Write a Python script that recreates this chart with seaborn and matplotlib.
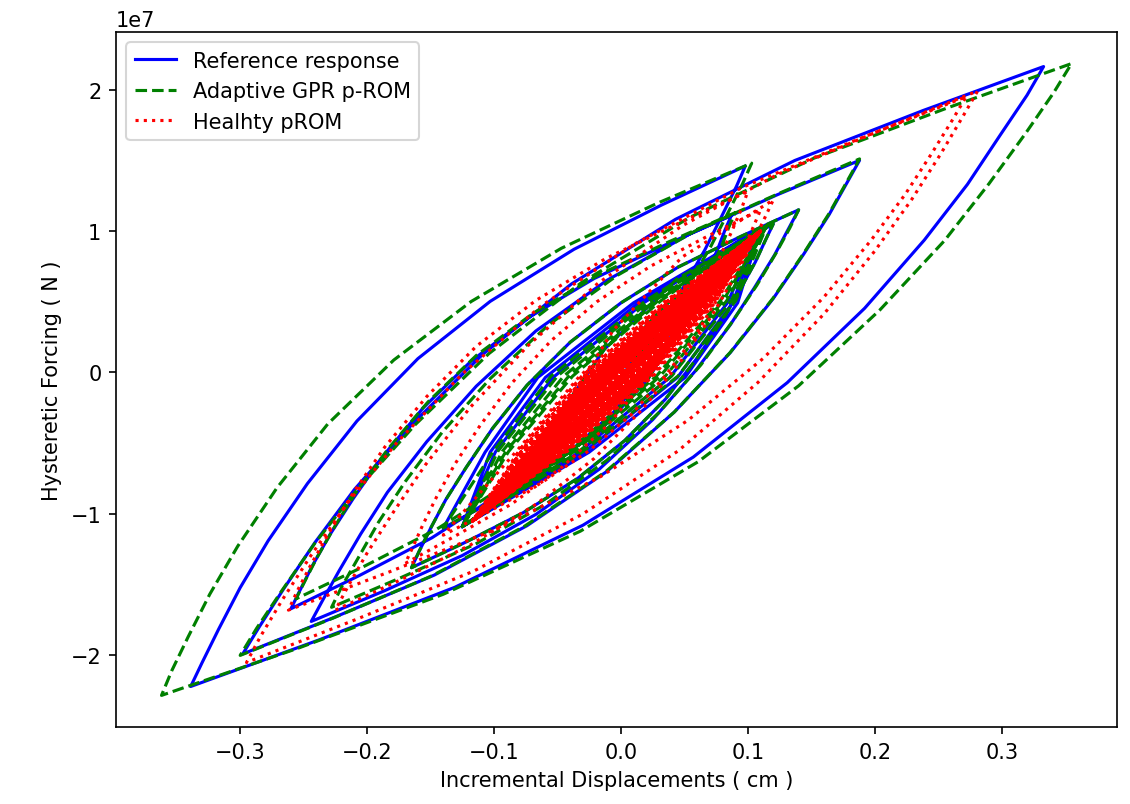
import numpy as np
import pandas as pd
import matplotlib
matplotlib.use("Agg")
import matplotlib.pyplot as plt
import seaborn as sns

# Forces are listed in units of 1e7 N, displacements in cm.
FORCE_UNIT = 1e7

# ---------------- Reference response ----------------
ref_start = [
    (0.0, 0.0), (0.006, 0.136), (0.018, 0.31), (0.036, 0.484), (0.06, 0.62),
    (0.047, 0.325), (0.021, -0.05), (-0.018, -0.425), (-0.07, -0.72),
    (-0.051, -0.331), (-0.013, 0.165), (0.044, 0.661), (0.12, 1.05),
]
ref_build = [
    (0.114, 0.938), (0.106, 0.783), (0.094, 0.588), (0.080, 0.370), (0.060, 0.102),
    (0.035, -0.189), (0.003, -0.481), (-0.034, -0.748), (-0.077, -0.991), (-0.122, -1.198), (-0.165, -1.38),
    (-0.159, -1.264), (-0.150, -1.102), (-0.138, -0.899), (-0.122, -0.672), (-0.101, -0.393),
    (-0.074, -0.090), (-0.040, 0.214), (0.000, 0.492), (0.045, 0.745), (0.094, 0.960), (0.14, 1.15),
    (0.132, 1.016), (0.121, 0.830), (0.105, 0.597), (0.086, 0.335), (0.059, 0.015),
    (0.025, -0.334), (-0.017, -0.683), (-0.067, -1.003), (-0.125, -1.294), (-0.186, -1.542), (-0.244, -1.76),
]
ref_peak = [
    (-0.235, -1.610), (-0.222, -1.401), (-0.205, -1.141), (-0.184, -0.847), (-0.153, -0.489),
    (-0.114, -0.097), (-0.067, 0.294), (-0.011, 0.652), (0.054, 0.978), (0.123, 1.256), (0.188, 1.50),
    (0.178, 1.340), (0.164, 1.116), (0.144, 0.837), (0.120, 0.523), (0.086, 0.139),
    (0.042, -0.280), (-0.011, -0.699), (-0.074, -1.083), (-0.147, -1.432), (-0.225, -1.728), (-0.298, -1.99),
    (-0.285, -1.799), (-0.266, -1.533), (-0.241, -1.201), (-0.210, -0.827), (-0.165, -0.370),
    (-0.109, 0.128), (-0.039, 0.626), (0.043, 1.083), (0.137, 1.499), (0.238, 1.852), (0.333, 2.163),
    (0.320, 1.961), (0.299, 1.681), (0.273, 1.330), (0.239, 0.936), (0.192, 0.454),
    (0.131, -0.072), (0.057, -0.598), (-0.030, -1.080), (-0.131, -1.519), (-0.238, -1.891), (-0.339, -2.22),
    (-0.330, -2.051), (-0.317, -1.815), (-0.300, -1.521), (-0.278, -1.190), (-0.247, -0.785),
    (-0.208, -0.343), (-0.160, 0.098), (-0.103, 0.503), (-0.037, 0.871), (0.032, 1.184), (0.098, 1.46),
    (0.091, 1.316), (0.080, 1.116), (0.066, 0.865), (0.048, 0.584), (0.023, 0.239),
    (-0.009, -0.136), (-0.049, -0.512), (-0.095, -0.856), (-0.149, -1.169), (-0.206, -1.435), (-0.26, -1.67),
    (-0.253, -1.542), (-0.243, -1.364), (-0.229, -1.142), (-0.211, -0.892), (-0.187, -0.586),
    (-0.156, -0.252), (-0.118, 0.081), (-0.073, 0.387), (-0.021, 0.665), (0.035, 0.902), (0.087, 1.11),
    (0.082, 1.008), (0.076, 0.867), (0.067, 0.690), (0.055, 0.491), (0.039, 0.248),
    (0.019, -0.017), (-0.006, -0.282), (-0.036, -0.525), (-0.070, -0.746), (-0.106, -0.934), (-0.14, -1.10),
]
ref_decay = [
    (-0.107, -0.563), (-0.0655, -0.035), (0.010, 0.493), (0.11, 1.02),
    (0.092, 0.493), (0.0505, -0.035), (-0.025, -0.563), (-0.125, -1.09),
    (-0.103, -0.563), (-0.0595, -0.035), (0.014, 0.493), (0.11, 1.02),
    (0.088, 0.493), (0.0445, -0.035), (-0.029, -0.563), (-0.125, -1.09),
    (-0.099, -0.563), (-0.0535, -0.035), (0.018, 0.493), (0.11, 1.02),
    (0.084, 0.493), (0.0385, -0.035), (-0.033, -0.563), (-0.125, -1.09),
]

# ---------------- Adaptive GPR p-ROM ----------------
gpr_build = [
    (0.133, 1.021), (0.122, 0.841), (0.107, 0.616), (0.088, 0.363), (0.063, 0.054),
    (0.030, -0.283), (-0.011, -0.620), (-0.059, -0.929), (-0.114, -1.210), (-0.173, -1.449), (-0.228, -1.66),
]
gpr_peak = [
    (-0.220, -1.514), (-0.207, -1.311), (-0.191, -1.058), (-0.170, -0.772), (-0.141, -0.424),
    (-0.103, -0.043), (-0.057, 0.337), (-0.003, 0.686), (0.059, 1.003), (0.126, 1.272), (0.188, 1.51),
    (0.178, 1.349), (0.164, 1.124), (0.144, 0.843), (0.120, 0.527), (0.086, 0.141),
    (0.042, -0.280), (-0.012, -0.701), (-0.076, -1.087), (-0.149, -1.438), (-0.227, -1.737), (-0.300, -2.00),
    (-0.287, -1.808), (-0.267, -1.540), (-0.241, -1.205), (-0.208, -0.829), (-0.162, -0.368),
    (-0.104, 0.134), (-0.031, 0.636), (0.054, 1.096), (0.152, 1.515), (0.257, 1.870), (0.355, 2.184),
    (0.341, 1.979), (0.319, 1.693), (0.290, 1.335), (0.255, 0.933), (0.204, 0.442),
    (0.140, -0.094), (0.061, -0.630), (-0.032, -1.122), (-0.140, -1.568), (-0.254, -1.948), (-0.362, -2.283),
    (-0.354, -2.110), (-0.341, -1.869), (-0.324, -1.568), (-0.302, -1.229), (-0.271, -0.815),
    (-0.231, -0.364), (-0.179, 0.088), (-0.118, 0.502), (-0.047, 0.878), (0.029, 1.198), (0.103, 1.48),
    (0.096, 1.338), (0.085, 1.141), (0.071, 0.895), (0.053, 0.618), (0.028, 0.279),
    (-0.005, -0.091), (-0.044, -0.460), (-0.091, -0.799), (-0.145, -1.107), (-0.202, -1.369), (-0.256, -1.60),
    (-0.249, -1.474), (-0.239, -1.300), (-0.225, -1.081), (-0.208, -0.836), (-0.183, -0.535),
    (-0.152, -0.208), (-0.114, 0.120), (-0.069, 0.420), (-0.017, 0.693), (0.038, 0.925), (0.09, 1.13),
    (0.085, 1.027), (0.079, 0.885), (0.069, 0.706), (0.058, 0.506), (0.042, 0.260),
    (0.021, -0.007), (-0.004, -0.275), (-0.034, -0.520), (-0.069, -0.743), (-0.106, -0.933), (-0.14, -1.10),
]
gpr_decay = [
    (-0.1005, -0.557), (-0.055, -0.025), (0.0195, 0.508), (0.115, 1.04),
    (0.0905, 0.508), (0.045, -0.025), (-0.0295, -0.557), (-0.125, -1.09),
    (-0.097, -0.557), (-0.050, -0.025), (0.023, 0.508), (0.115, 1.04),
    (0.087, 0.508), (0.040, -0.025), (-0.033, -0.557), (-0.125, -1.09),
    (-0.0934, -0.557), (-0.045, -0.025), (0.0266, 0.508), (0.115, 1.04),
    (0.0834, 0.508), (0.035, -0.025), (-0.0366, -0.557), (-0.125, -1.09),
    (-0.0906, -0.557), (-0.041, -0.025), (0.0294, 0.508), (0.115, 1.04),
    (0.0806, 0.508), (0.031, -0.025), (-0.0394, -0.557), (-0.125, -1.09),
    (-0.0884, -0.557), (-0.038, -0.025), (0.0316, 0.508), (0.115, 1.04),
    (0.0784, 0.508), (0.028, -0.025), (-0.0416, -0.557), (-0.125, -1.09),
]

# ---------------- Healthy pROM ----------------
healthy_start = [
    (0.0, 0.0), (0.006, 0.12), (0.02, 0.28), (0.05, 0.55),
    (0.035, 0.25), (0.005, -0.15), (-0.06, -0.62),
    (-0.042, -0.215), (-0.006, 0.30), (0.048, 0.815), (0.12, 1.22),
    (0.113, 1.087), (0.103, 0.901), (0.089, 0.669), (0.072, 0.408), (0.048, 0.089),
    (0.017, -0.259), (-0.021, -0.607), (-0.066, -0.926), (-0.118, -1.216), (-0.173, -1.463), (-0.225, -1.68),
]
healthy_peak = [
    (-0.215, -1.511), (-0.200, -1.276), (-0.179, -0.983), (-0.154, -0.652), (-0.119, -0.249),
    (-0.073, 0.192), (-0.018, 0.632), (0.048, 1.036), (0.124, 1.403), (0.205, 1.715), (0.281, 1.99),
    (0.269, 1.804), (0.252, 1.546), (0.229, 1.222), (0.200, 0.859), (0.160, 0.414),
    (0.108, -0.070), (0.045, -0.555), (-0.030, -1.000), (-0.116, -1.404), (-0.209, -1.747), (-0.295, -2.05),
    (-0.284, -1.866), (-0.267, -1.610), (-0.244, -1.290), (-0.216, -0.930), (-0.176, -0.490),
    (-0.125, -0.010), (-0.063, 0.470), (0.011, 0.910), (0.096, 1.310), (0.187, 1.650), (0.272, 1.95),
    (0.261, 1.783), (0.245, 1.551), (0.224, 1.260), (0.197, 0.934), (0.160, 0.534),
    (0.112, 0.099), (0.053, -0.337), (-0.016, -0.736), (-0.096, -1.099), (-0.182, -1.408), (-0.262, -1.68),
    (-0.255, -1.544), (-0.244, -1.354), (-0.229, -1.118), (-0.211, -0.851), (-0.186, -0.526),
    (-0.153, -0.170), (-0.114, 0.185), (-0.067, 0.510), (-0.012, 0.806), (0.046, 1.058), (0.10, 1.28),
    (0.095, 1.159), (0.087, 0.991), (0.076, 0.780), (0.062, 0.544), (0.043, 0.254),
    (0.019, -0.061), (-0.011, -0.377), (-0.046, -0.666), (-0.086, -0.929), (-0.130, -1.153), (-0.17, -1.35),
    (-0.164, -1.235), (-0.156, -1.075), (-0.145, -0.875), (-0.131, -0.650), (-0.111, -0.375),
    (-0.086, -0.075), (-0.055, 0.225), (-0.019, 0.500), (0.023, 0.750), (0.068, 0.9625), (0.11, 1.15),
    (0.105, 1.044), (0.098, 0.897), (0.088, 0.713), (0.075, 0.506), (0.058, 0.253),
    (0.035, -0.023), (0.008, -0.299), (-0.025, -0.552), (-0.063, -0.782), (-0.103, -0.978), (-0.14, -1.15),
]
# long tail of small cycles that pile up in the middle of the plot
healthy_decay = [
    (-0.0806, -0.538), (-0.0325, -0.025), (0.0324, 0.488), (0.11, 1.0),
    (0.0736, 0.488), (0.0255, -0.025), (-0.0394, -0.538), (-0.117, -1.05),
    (-0.0788, -0.534), (-0.0310, -0.0275), (0.0328, 0.479), (0.108, 0.985),
    (0.0718, 0.479), (0.0240, -0.0275), (-0.0398, -0.534), (-0.115, -1.04),
    (-0.0785, -0.538), (-0.0295, -0.025), (0.0345, 0.488), (0.11, 1.0),
    (0.0715, 0.488), (0.0225, -0.025), (-0.0415, -0.538), (-0.117, -1.05),
    (-0.0767, -0.534), (-0.0280, -0.0275), (0.0349, 0.479), (0.108, 0.985),
    (0.0697, 0.479), (0.0210, -0.0275), (-0.0419, -0.534), (-0.115, -1.04),
    (-0.0770, -0.538), (-0.0275, -0.025), (0.0360, 0.488), (0.11, 1.0),
    (0.0700, 0.488), (0.0205, -0.025), (-0.0430, -0.538), (-0.117, -1.05),
    (-0.0753, -0.534), (-0.0260, -0.0275), (0.0363, 0.479), (0.108, 0.985),
    (0.0683, 0.479), (0.0190, -0.0275), (-0.0433, -0.534), (-0.115, -1.04),
    (-0.0756, -0.538), (-0.0255, -0.025), (0.0374, 0.488), (0.11, 1.0),
    (0.0686, 0.488), (0.0185, -0.025), (-0.0444, -0.538), (-0.117, -1.05),
    (-0.0739, -0.534), (-0.0240, -0.0275), (0.0377, 0.479), (0.108, 0.985),
    (0.0669, 0.479), (0.0170, -0.0275), (-0.0447, -0.534), (-0.115, -1.04),
    (-0.0742, -0.538), (-0.0235, -0.025), (0.0388, 0.488), (0.11, 1.0),
    (0.0672, 0.488), (0.0165, -0.025), (-0.0458, -0.538), (-0.117, -1.05),
    (-0.0728, -0.534), (-0.0225, -0.0275), (0.0388, 0.479), (0.108, 0.985),
    (0.0658, 0.479), (0.0155, -0.0275), (-0.0458, -0.534), (-0.115, -1.04),
    (-0.0728, -0.538), (-0.0215, -0.025), (0.0402, 0.488), (0.11, 1.0),
    (0.0658, 0.488), (0.0145, -0.025), (-0.0472, -0.538), (-0.117, -1.05),
    (-0.0714, -0.534), (-0.0205, -0.0275), (0.0402, 0.479), (0.108, 0.985),
    (0.0644, 0.479), (0.0135, -0.0275), (-0.0472, -0.534), (-0.115, -1.04),
    (-0.0714, -0.538), (-0.0195, -0.025), (0.0416, 0.488), (0.11, 1.0),
    (0.0644, 0.488), (0.0125, -0.025), (-0.0486, -0.538), (-0.117, -1.05),
    (-0.0700, -0.534), (-0.0185, -0.0275), (0.0416, 0.479), (0.108, 0.985),
    (0.0630, 0.479), (0.0115, -0.0275), (-0.0486, -0.534), (-0.115, -1.04),
    (-0.0699, -0.538), (-0.0175, -0.025), (0.0431, 0.488), (0.11, 1.0),
    (0.0629, 0.488), (0.0105, -0.025), (-0.0501, -0.538), (-0.117, -1.05),
    (-0.0685, -0.534), (-0.0165, -0.0275), (0.0431, 0.479), (0.108, 0.985),
    (0.0615, 0.479), (0.0095, -0.0275), (-0.0501, -0.534), (-0.115, -1.04),
    (-0.0685, -0.538), (-0.0155, -0.025), (0.0445, 0.488), (0.11, 1.0),
    (0.0615, 0.488), (0.0085, -0.025), (-0.0515, -0.538), (-0.117, -1.05),
    (-0.0671, -0.534), (-0.0145, -0.0275), (0.0445, 0.479), (0.108, 0.985),
    (0.0601, 0.479), (0.0075, -0.0275), (-0.0515, -0.534), (-0.115, -1.04),
    (-0.0671, -0.538), (-0.0135, -0.025), (0.0459, 0.488), (0.11, 1.0),
    (0.0601, 0.488), (0.0065, -0.025), (-0.0529, -0.538), (-0.117, -1.05),
    (-0.0657, -0.534), (-0.0125, -0.0275), (0.0459, 0.479), (0.108, 0.985),
    (0.0587, 0.479), (0.0055, -0.0275), (-0.0529, -0.534), (-0.115, -1.04),
    (-0.0657, -0.538), (-0.0115, -0.025), (0.0473, 0.488), (0.11, 1.0),
    (0.0587, 0.488), (0.0045, -0.025), (-0.0543, -0.538), (-0.117, -1.05),
    (-0.0643, -0.534), (-0.0105, -0.0275), (0.0473, 0.479), (0.108, 0.985),
    (0.0573, 0.479), (0.0035, -0.0275), (-0.0543, -0.534), (-0.115, -1.04),
    (-0.0643, -0.538), (-0.0095, -0.025), (0.0487, 0.488), (0.11, 1.0),
    (0.0573, 0.488), (0.0025, -0.025), (-0.0557, -0.538), (-0.117, -1.05),
    (-0.0629, -0.534), (-0.0085, -0.0275), (0.0487, 0.479), (0.108, 0.985),
    (0.0559, 0.479), (0.0015, -0.0275), (-0.0557, -0.534), (-0.115, -1.04),
    (-0.0628, -0.538), (-0.0075, -0.025), (0.0502, 0.488), (0.11, 1.0),
    (0.0558, 0.488), (0.0005, -0.025), (-0.0572, -0.538), (-0.117, -1.05),
    (-0.0614, -0.534), (-0.0065, -0.0275), (0.0502, 0.479), (0.108, 0.985),
    (0.0544, 0.479), (-0.0005, -0.0275), (-0.0572, -0.534), (-0.115, -1.04),
    (-0.0614, -0.538), (-0.0055, -0.025), (0.0516, 0.488), (0.11, 1.0),
    (0.0544, 0.488), (-0.0015, -0.025), (-0.0586, -0.538), (-0.117, -1.05),
    (-0.0600, -0.534), (-0.0045, -0.0275), (0.0516, 0.479), (0.108, 0.985),
    (0.0530, 0.479), (-0.0025, -0.0275), (-0.0586, -0.534), (-0.115, -1.04),
]
# final near-periodic cycles: (load midpoint, upper tip, unload midpoint, lower tip)
healthy_tail = [
    (-0.028, -0.025), (0.104, 0.96), (0.020, -0.025), (-0.112, -1.01),
    (-0.027, -0.025), (0.100, 0.93), (0.019, -0.025), (-0.108, -0.98),
    (-0.0255, -0.025), (0.107, 0.98), (0.0185, -0.025), (-0.114, -1.03),
    (-0.025, -0.025), (0.102, 0.95), (0.017, -0.025), (-0.110, -1.0),
    (-0.0245, -0.03), (0.096, 0.90), (0.0155, -0.03), (-0.105, -0.96),
    (-0.023, -0.025), (0.104, 0.96), (0.015, -0.025), (-0.112, -1.01),
    (-0.022, -0.025), (0.100, 0.93), (0.014, -0.025), (-0.108, -0.98),
    (-0.0205, -0.025), (0.107, 0.98), (0.0135, -0.025), (-0.114, -1.03),
    (-0.020, -0.025), (0.102, 0.95), (0.012, -0.025), (-0.110, -1.0),
    (-0.0195, -0.03), (0.096, 0.90), (0.0105, -0.03), (-0.105, -0.96),
    (-0.018, -0.025), (0.104, 0.96), (0.010, -0.025), (-0.112, -1.01),
    (-0.017, -0.025), (0.100, 0.93), (0.009, -0.025), (-0.108, -0.98),
    (-0.0155, -0.025), (0.107, 0.98), (0.0085, -0.025), (-0.114, -1.03),
    (-0.015, -0.025), (0.102, 0.95), (0.007, -0.025), (-0.110, -1.0),
    (-0.0145, -0.03), (0.096, 0.90), (0.0055, -0.03), (-0.105, -0.96),
    (-0.013, -0.025), (0.104, 0.96), (0.005, -0.025), (-0.112, -1.01),
    (-0.012, -0.025), (0.100, 0.93), (0.004, -0.025), (-0.108, -0.98),
    (-0.0105, -0.025), (0.107, 0.98), (0.0035, -0.025), (-0.114, -1.03),
    (-0.010, -0.025), (0.102, 0.95), (0.002, -0.025), (-0.110, -1.0),
    (-0.0095, -0.03), (0.096, 0.90), (0.0005, -0.03), (-0.105, -0.96),
    (-0.008, -0.025), (0.104, 0.96), (0.0, -0.025), (-0.112, -1.01),
    (-0.007, -0.025), (0.100, 0.93), (-0.001, -0.025), (-0.108, -0.98),
    (-0.0055, -0.025), (0.107, 0.98), (-0.0015, -0.025), (-0.114, -1.03),
    (-0.005, -0.025), (0.102, 0.95), (-0.003, -0.025), (-0.110, -1.0),
    (-0.027, -0.025), (0.106, 0.97), (0.020, -0.025), (-0.113, -1.02),
    (-0.026, -0.025), (0.098, 0.92), (0.017, -0.025), (-0.107, -0.97),
    (-0.0235, -0.025), (0.103, 0.945), (0.0155, -0.025), (-0.111, -0.995),
    (-0.021, -0.025), (0.106, 0.97), (0.014, -0.025), (-0.113, -1.02),
    (-0.020, -0.025), (0.098, 0.92), (0.011, -0.025), (-0.107, -0.97),
    (-0.0175, -0.025), (0.103, 0.945), (0.0095, -0.025), (-0.111, -0.995),
    (-0.015, -0.025), (0.106, 0.97), (0.008, -0.025), (-0.113, -1.02),
    (-0.014, -0.025), (0.098, 0.92), (0.005, -0.025), (-0.107, -0.97),
    (-0.0115, -0.025), (0.103, 0.945), (0.0035, -0.025), (-0.111, -0.995),
    (-0.009, -0.025), (0.106, 0.97), (0.002, -0.025), (-0.113, -1.02),
    (-0.008, -0.025), (0.098, 0.92), (-0.001, -0.025), (-0.107, -0.97),
    (-0.0055, -0.025), (0.103, 0.945), (-0.0025, -0.025), (-0.111, -0.995),
]


def path_frame(points):
    arr = np.asarray(points, dtype=float)
    return pd.DataFrame({
        "step": np.arange(len(arr)),
        "disp": arr[:, 0],
        "force": arr[:, 1] * FORCE_UNIT,
    })


ref_df = path_frame(ref_start + ref_build + ref_peak + ref_decay)
gpr_df = path_frame(ref_start + ref_build[:22] + gpr_build + gpr_peak + gpr_decay)
healthy_df = path_frame(healthy_start + healthy_peak + healthy_decay + healthy_tail)

DPI = 150
fig = plt.figure(figsize=(1130 / DPI, 805 / DPI), dpi=DPI)
ax = fig.add_axes([116 / 1130, 1 - 728 / 805, (1117 - 116) / 1130, (728 - 33) / 805])

sns.lineplot(data=ref_df, x="disp", y="force", sort=False, estimator=None,
             color="blue", linewidth=1.5, linestyle="-",
             label="Reference response", ax=ax)
sns.lineplot(data=gpr_df, x="disp", y="force", sort=False, estimator=None,
             color="green", linewidth=1.5, linestyle="--",
             label="Adaptive GPR p-ROM", ax=ax)
sns.lineplot(data=healthy_df, x="disp", y="force", sort=False, estimator=None,
             color="red", linewidth=1.5, linestyle=":",
             label="Healhty pROM", ax=ax)

ax.set_xlabel("Incremental Displacements ( cm )")
ax.set_ylabel("Hysteretic Forcing ( N )")
ax.legend(loc="upper left")

fig.savefig("out.png", dpi=DPI)
